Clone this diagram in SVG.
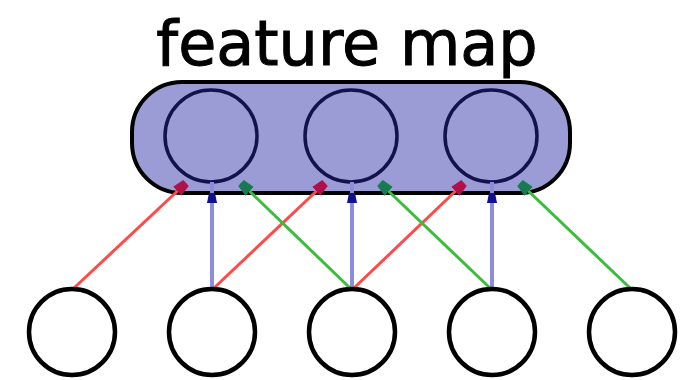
<svg xmlns="http://www.w3.org/2000/svg" width="700" height="380" viewBox="0 0 700 380">
  <style>
    .title { font-family: "DejaVu Sans", "Liberation Sans", sans-serif; font-size: 62px; fill: #000; stroke: #000; stroke-width: 1; }
    .map { fill: #9b9bd6; stroke: #000; stroke-width: 4; }
    .unit { fill: none; stroke: #12124e; stroke-width: 3.5; }
    .input { fill: #fff; stroke: #000; stroke-width: 4.5; }
    .red { stroke: #ff4a4a; stroke-width: 3; fill: none; }
    .blue { stroke: #8c8cdc; stroke-width: 4; fill: none; }
    .green { stroke: #3cbc3c; stroke-width: 3; fill: none; }
  </style>
  <defs>
    <marker id="arrow-red" markerUnits="userSpaceOnUse" markerWidth="14" markerHeight="14" refX="12" refY="7" orient="auto">
      <path d="M0,1 L12,3 L12,11 L0,13 z" fill="#b0104c"/>
    </marker>
    <marker id="arrow-green" markerUnits="userSpaceOnUse" markerWidth="14" markerHeight="14" refX="12" refY="7" orient="auto">
      <path d="M0,1 L12,3 L12,11 L0,13 z" fill="#187a50"/>
    </marker>
    <marker id="arrow-blue" markerUnits="userSpaceOnUse" markerWidth="24" markerHeight="12" refX="21" refY="6" orient="auto">
      <path d="M0,1 L10,3 L10,9 L0,11 z" fill="#10108c"/>
    </marker>
  </defs>

  <rect width="700" height="380" fill="#fff"/>

  <g id="feature-map">
    <text class="title" x="347" y="65" text-anchor="middle">feature map</text>
    <rect class="map" x="132" y="82" width="438" height="111" rx="50" ry="50"/>
  </g>
  <g id="unit-1"><circle class="unit" cx="211" cy="136" r="46"/></g>
  <g id="unit-2"><circle class="unit" cx="351" cy="136" r="46"/></g>
  <g id="unit-3"><circle class="unit" cx="491" cy="136" r="46"/></g>

  <g id="connectors">
    <line class="red" x1="74" y1="288" x2="186" y2="183" marker-end="url(#arrow-red)"/>
    <line class="red" x1="214" y1="288" x2="325" y2="183" marker-end="url(#arrow-red)"/>
    <line class="red" x1="354" y1="288" x2="464" y2="183" marker-end="url(#arrow-red)"/>
    <line class="blue" x1="212" y1="288" x2="212" y2="182" marker-end="url(#arrow-blue)"/>
    <line class="blue" x1="352" y1="288" x2="352" y2="182" marker-end="url(#arrow-blue)"/>
    <line class="blue" x1="492" y1="288" x2="492" y2="182" marker-end="url(#arrow-blue)"/>
    <line class="green" x1="350" y1="288" x2="241" y2="183" marker-end="url(#arrow-green)"/>
    <line class="green" x1="490" y1="288" x2="380" y2="183" marker-end="url(#arrow-green)"/>
    <line class="green" x1="630" y1="288" x2="520" y2="183" marker-end="url(#arrow-green)"/>
  </g>

  <g id="input-1"><circle class="input" cx="72" cy="332" r="43"/></g>
  <g id="input-2"><circle class="input" cx="212" cy="332" r="43"/></g>
  <g id="input-3"><circle class="input" cx="352" cy="332" r="43"/></g>
  <g id="input-4"><circle class="input" cx="492" cy="332" r="43"/></g>
  <g id="input-5"><circle class="input" cx="632" cy="332" r="43"/></g>
</svg>
